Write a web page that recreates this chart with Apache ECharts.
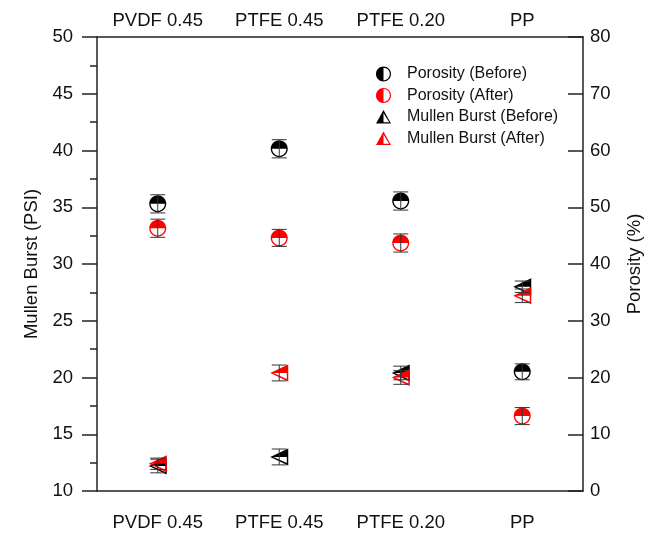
<!DOCTYPE html>
<html>
<head>
<meta charset="utf-8">
<script src="https://cdn.jsdelivr.net/npm/echarts@6/dist/echarts.min.js"></script>
<style>
  html, body { margin: 0; padding: 0; background: #fff; }
  #main { width: 659px; height: 536px; }
</style>
</head>
<body>
<div id="main"></div>
<script>
// data
const categories = ["PVDF 0.45", "PTFE 0.45", "PTFE 0.20", "PP"];
const porosityBefore = [50.6, 60.3, 51.1, 21.0];
const porosityBeforeErr = [1.6, 1.6, 1.6, 1.4];
const porosityAfter = [46.3, 44.6, 43.7, 13.2];
const porosityAfterErr = [1.6, 1.5, 1.6, 1.5];
const burstBefore = [12.2, 13.0, 20.4, 28.0];
const burstBeforeErr = [0.6, 0.7, 0.6, 0.5];
const burstAfter = [12.4, 20.4, 20.0, 27.2];
const burstAfterErr = [0.5, 0.7, 0.6, 0.6];

// marker shapes (outer shape clockwise, hole counter-clockwise)
const k = 0.5523;
const f = (n) => n.toFixed(2);
const circle = (R) =>
  `M${f(R)} 0 C${f(R)} ${f(k * R)} ${f(k * R)} ${f(R)} 0 ${f(R)} ` +
  `C${f(-k * R)} ${f(R)} ${f(-R)} ${f(k * R)} ${f(-R)} 0 ` +
  `C${f(-R)} ${f(-k * R)} ${f(-k * R)} ${f(-R)} 0 ${f(-R)} ` +
  `C${f(k * R)} ${f(-R)} ${f(R)} ${f(-k * R)} ${f(R)} 0 Z`;
const r = 8.4;
// top half filled (plot)
const circleTop = "path://" + circle(10) +
  ` M${f(-r)} 0 C${f(-r)} ${f(k * r)} ${f(-k * r)} ${f(r)} 0 ${f(r)} C${f(k * r)} ${f(r)} ${f(r)} ${f(k * r)} ${f(r)} 0 Z`;
// left half filled (legend)
const circleLeft = "path://" + circle(10) +
  ` M0 ${f(r)} C${f(k * r)} ${f(r)} ${f(r)} ${f(k * r)} ${f(r)} 0 C${f(r)} ${f(-k * r)} ${f(k * r)} ${f(-r)} 0 ${f(-r)} Z`;
// triangle pointing left, top half filled (plot)
const triLeft = "path://M-10 0 L10 -9 L10 9 Z M-6.5 0 L8.4 6.4 L8.4 0 Z";
// triangle pointing up, left half filled (legend)
const triUp = "path://M0 -10 L10 8 L-10 8 Z M0 -6 L0 6.4 L7.6 6.4 Z";

const errSeries = (name, vals, errs, axis) => ({
  name: name,
  type: "custom",
  yAxisIndex: axis,
  z: 5,
  silent: true,
  data: vals.map((v, i) => [i, v, errs[i]]),
  renderItem: function (params, api) {
    const x = api.value(0);
    const y = api.value(1);
    const e = api.value(2);
    const hi = api.coord([x, y + e]);
    const lo = api.coord([x, y - e]);
    const w = 7.5;
    const style = { stroke: "#333", lineWidth: 1 };
    return {
      type: "group",
      children: [
        { type: "line", shape: { x1: hi[0], y1: hi[1], x2: lo[0], y2: lo[1] }, style: style },
        { type: "line", shape: { x1: hi[0] - w, y1: hi[1], x2: hi[0] + w, y2: hi[1] }, style: style },
        { type: "line", shape: { x1: lo[0] - w, y1: lo[1], x2: lo[0] + w, y2: lo[1] }, style: style },
      ],
    };
  },
});

const axisLine = { show: true, lineStyle: { color: "#222", width: 1.5 } };
const labelFont = { color: "#111", fontSize: 18.5, fontFamily: "Liberation Sans, Arial, sans-serif" };

let chart = echarts.init(document.getElementById("main"));
let option = {
  animation: false,
  grid: { left: 97, right: 76, top: 37, bottom: 45 },
  legend: {
    orient: "vertical",
    left: 371,
    top: 61,
    itemWidth: 15,
    itemHeight: 15,
    itemGap: 5.4,
    textStyle: { fontSize: 16, color: "#111", fontFamily: "Liberation Sans, Arial, sans-serif", padding: [0, 0, 0, 11] },
    data: [
      { name: "Porosity (Before)", icon: circleLeft },
      { name: "Porosity (After)", icon: circleLeft },
      { name: "Mullen Burst (Before)", icon: triUp },
      { name: "Mullen Burst (After)", icon: triUp },
    ],
  },
  xAxis: [
    {
      type: "category",
      position: "bottom",
      data: categories,
      axisLine: axisLine,
      axisTick: { alignWithLabel: true, length: 15, lineStyle: { color: "#222", width: 1.5 } },
      axisLabel: Object.assign({ margin: 22 }, labelFont),
      splitLine: { show: false },
    },
    {
      type: "category",
      position: "top",
      data: categories,
      axisLine: axisLine,
      axisTick: { alignWithLabel: true, inside: true, length: 15, lineStyle: { color: "#222", width: 1.5 } },
      axisLabel: Object.assign({ margin: 7 }, labelFont),
      splitLine: { show: false },
    },
  ],
  yAxis: [
    {
      type: "value",
      position: "left",
      min: 10,
      max: 50,
      interval: 5,
      name: "Mullen Burst (PSI)",
      nameLocation: "middle",
      nameGap: 56,
      nameTextStyle: labelFont,
      axisLine: axisLine,
      axisTick: { show: true, length: 15, lineStyle: { color: "#222", width: 1.5 } },
      minorTick: { show: true, splitNumber: 2, length: 7, lineStyle: { color: "#222", width: 1.5 } },
      axisLabel: Object.assign({ margin: 24 }, labelFont),
      splitLine: { show: false },
    },
    {
      type: "value",
      position: "right",
      min: 0,
      max: 80,
      interval: 10,
      name: "Porosity (%)",
      nameLocation: "middle",
      nameGap: 42,
      nameTextStyle: labelFont,
      axisLine: axisLine,
      axisTick: { show: true, inside: true, length: 15, lineStyle: { color: "#222", width: 1.5 } },
      axisLabel: Object.assign({ margin: 7 }, labelFont),
      splitLine: { show: false },
    },
  ],
  series: [
    {
      name: "Mullen Burst (Before)",
      type: "scatter",
      yAxisIndex: 0,
      symbol: triLeft,
      symbolSize: [18, 17],
      itemStyle: { color: "#000", opacity: 1 },
      data: burstBefore,
    },
    {
      name: "Mullen Burst (After)",
      type: "scatter",
      yAxisIndex: 0,
      symbol: triLeft,
      symbolSize: [18, 17],
      itemStyle: { color: "#ff0000", opacity: 1 },
      data: burstAfter,
    },
    {
      name: "Porosity (Before)",
      type: "scatter",
      yAxisIndex: 1,
      symbol: circleTop,
      symbolSize: 17,
      itemStyle: { color: "#000", opacity: 1 },
      data: porosityBefore,
    },
    {
      name: "Porosity (After)",
      type: "scatter",
      yAxisIndex: 1,
      symbol: circleTop,
      symbolSize: 17,
      itemStyle: { color: "#ff0000", opacity: 1 },
      data: porosityAfter,
    },
    errSeries("errBurstBefore", burstBefore, burstBeforeErr, 0),
    errSeries("errBurstAfter", burstAfter, burstAfterErr, 0),
    errSeries("errPorBefore", porosityBefore, porosityBeforeErr, 1),
    errSeries("errPorAfter", porosityAfter, porosityAfterErr, 1),
  ],
};
chart.setOption(option);
</script>
</body>
</html>
